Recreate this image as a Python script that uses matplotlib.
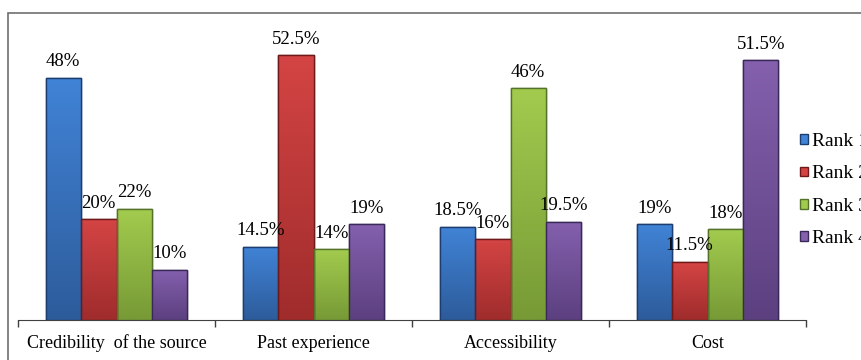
import numpy as np
import matplotlib.pyplot as plt
from matplotlib.patches import Rectangle, Patch

plt.rcParams['font.family'] = ['Liberation Serif', 'DejaVu Serif']

# данные
categories = ['Credibility  of the source', 'Past experience', 'Accessibility', 'Cost']
series_names = ['Rank 1', 'Rank 2', 'Rank 3', 'Rank 4']
rank1 = [48, 14.5, 18.5, 19]
rank2 = [20, 52.5, 16, 11.5]
rank3 = [22, 14, 46, 18]
rank4 = [10, 19, 19.5, 51.5]
labels = [['48%', '14.5%', '18.5%', '19%'],
          ['20%', '52.5%', '16%', '11.5%'],
          ['22%', '14%', '46%', '18%'],
          ['10%', '19%', '19.5%', '51.5%']]

# цвета: верх, низ, обводка
top_colors = ['#4183d6', '#d44444', '#a2cb4e', '#8460ad']
bottom_colors = ['#2d5c9b', '#a02c2c', '#779a36', '#5c4080']
edge_colors = ['#1d3d6e', '#6e1a1a', '#55722a', '#3a2858']

fig = plt.figure(figsize=(8.61, 3.6), dpi=100)
ax = fig.add_axes([18 / 861, 40 / 360, (806 - 18) / 861, 302.4 / 360])

# рамка диаграммы
fig.patches.append(Rectangle((8 / 861, -0.2), 1.2, (360 - 12.5) / 360 + 0.2,
                             transform=fig.transFigure, fill=False,
                             edgecolor='#707070', linewidth=1.2))

x = np.arange(len(categories))
w = 0.18
all_series = [rank1, rank2, rank3, rank4]

for i, vals in enumerate(all_series):
    pos = x + (i - 1.5) * w
    bars = ax.bar(pos, vals, w, color=bottom_colors[i], edgecolor=edge_colors[i],
                  linewidth=1.0, zorder=2)
    cmap = plt.matplotlib.colors.LinearSegmentedColormap.from_list(
        'g%d' % i, [bottom_colors[i], top_colors[i]])
    for b, v in zip(bars, vals):
        grad = np.linspace(0, 1, 100).reshape(-1, 1)
        im = ax.imshow(grad, extent=(b.get_x(), b.get_x() + w, 0, v), origin='lower',
                       aspect='auto', cmap=cmap, zorder=2.5)
        im.set_clip_path(b)
        ax.add_patch(Rectangle((b.get_x(), 0), w, v, fill=False,
                               edgecolor=edge_colors[i], linewidth=1.0, zorder=3))
    for p, v, t in zip(pos, vals, labels[i]):
        ax.annotate(t, (p, v), xytext=(0, 5.5), textcoords='offset points',
                    ha='center', va='bottom', fontsize=13.5, zorder=4)

ax.set_xlim(-0.5, 3.5)
ax.set_ylim(0, 60)
ax.set_xticks(x)
ax.set_xticklabels(categories, fontsize=13)
ax.set_xticks(np.arange(-0.5, 4.0, 1), minor=True)
ax.tick_params(axis='x', which='major', length=0, pad=10.5)
ax.tick_params(axis='x', which='minor', length=5, width=1, color='#404040')
ax.set_yticks([])
for s in ['top', 'right', 'left']:
    ax.spines[s].set_visible(False)
ax.spines['bottom'].set_color('#404040')
ax.patch.set_visible(False)

# легенда (справа обрезана, как в оригинале)
handles = [Patch(facecolor=top_colors[i], edgecolor=edge_colors[i]) for i in range(4)]
fig.legend(handles, series_names, loc='center left', bbox_to_anchor=(800 / 861, 0.472),
           frameon=False, fontsize=14, handlelength=0.4, handleheight=0.4,
           handletextpad=0.2, labelspacing=0.78, borderpad=0, borderaxespad=0)

fig.savefig('out.png', dpi=100)
